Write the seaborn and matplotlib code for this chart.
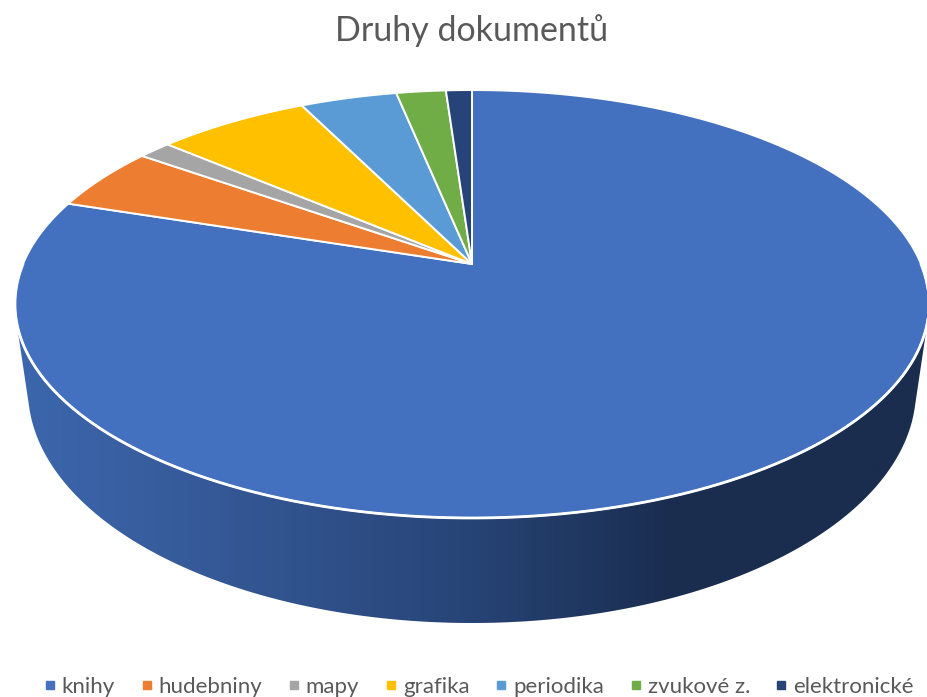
import numpy as np
import matplotlib
matplotlib.use('Agg')
import matplotlib.pyplot as plt
import seaborn as sns
from matplotlib.colors import LinearSegmentedColormap
from matplotlib.lines import Line2D
from matplotlib.patches import Polygon

# druhy dokumentu, podil v %
categories = ['knihy', 'hudebniny', 'mapy', 'grafika', 'periodika', 'zvukové z.', 'elektronické']
shares = [80.0, 4.85, 1.4, 6.45, 4.1, 2.1, 1.1]
colors = ['#4371BF', '#ED7D31', '#A5A5A5', '#FFC000', '#5B9BD5', '#70AD47', '#264478']
title = 'Druhy dokumentů'

sns.set_theme(style='white')
plt.rcParams['font.family'] = ['Lato', 'DejaVu Sans']

W, H = 927, 697
fig = plt.figure(figsize=(W / 100, H / 100), dpi=100)
ax = fig.add_axes([0, 0, 1, 1])
ax.set_xlim(0, W)
ax.set_ylim(H, 0)
ax.axis('off')

# perspektiva horni plochy: kruh -> elipsa, stred kruhu lezi nad stredem elipsy
cx, cy = 472, 264
ky = 0.187
Ax, Ay = 449, 206.5


def project(deg):
    # uhel od poledne po smeru hodin
    t = np.radians(deg)
    u, v = np.sin(t), np.cos(t)
    d = 1 + ky * v
    return np.column_stack([cx + Ax * u / d, cy - Ay * v / d])


def hull(pts):
    pts = sorted(map(tuple, pts))

    def half(seq):
        out = []
        for p in seq:
            while len(out) > 1 and np.cross(np.subtract(out[-1], out[-2]), np.subtract(p, out[-2])) <= 0:
                out.pop()
            out.append(p)
        return out[:-1]
    return np.array(half(pts) + half(pts[::-1]))


# bocni stena = obal horni a spodni elipsy
t = np.linspace(0, 2 * np.pi, 721)
top_pts = project(np.linspace(0, 360, 721))
bottom_pts = np.column_stack([472 + 444 * np.cos(t), 390 + 233 * np.sin(t)])
wall = Polygon(hull(np.vstack([top_pts, bottom_pts])), closed=True, fc='none', ec='none')
ax.add_patch(wall)

side_cmap = LinearSegmentedColormap.from_list('side', [
    (0.0, '#3C67AD'), (0.2, '#365A99'), (0.5, '#274476'), (0.72, '#1A2D4F'), (1.0, '#1A2D4F')])
grad = np.linspace(0, 1, 512).reshape(1, -1)
im = ax.imshow(grad, cmap=side_cmap, extent=[15, 928, 640, 260], aspect='auto', zorder=1)
im.set_clip_path(wall)
ax.set_xlim(0, W)
ax.set_ylim(H, 0)

# vysece
edges = np.concatenate([[0], np.cumsum(shares)]) / np.sum(shares) * 360
for i, c in enumerate(colors):
    # knihy jdou od poledne po smeru hodin, ostatni navazuji
    arc = project(np.linspace(edges[i], edges[i + 1], 300))
    poly = np.vstack([[cx, cy], arc])
    ax.add_patch(Polygon(poly, closed=True, fc=c, ec='white', lw=1.4, joinstyle='miter', zorder=3))

# bily okraj predni hrany
rim = project(np.linspace(90, 270, 361))
ax.plot(rim[:, 0], rim[:, 1], color='white', lw=2, zorder=4)

ax.text(472, 31, title, ha='center', va='center', fontsize=24.5, color='#595959')

handles = [Line2D([], [], ls='none', marker='s', ms=5.6, color=c) for c in colors]
leg = ax.legend(handles, categories, ncol=7, loc='lower center', bbox_to_anchor=(0.518, 0.0),
                frameon=False, fontsize=16, labelcolor='#595959', handlelength=0.3,
                handletextpad=0.39, columnspacing=1.27, borderpad=0, borderaxespad=0)

fig.savefig('out.png', dpi=100, facecolor='white')
